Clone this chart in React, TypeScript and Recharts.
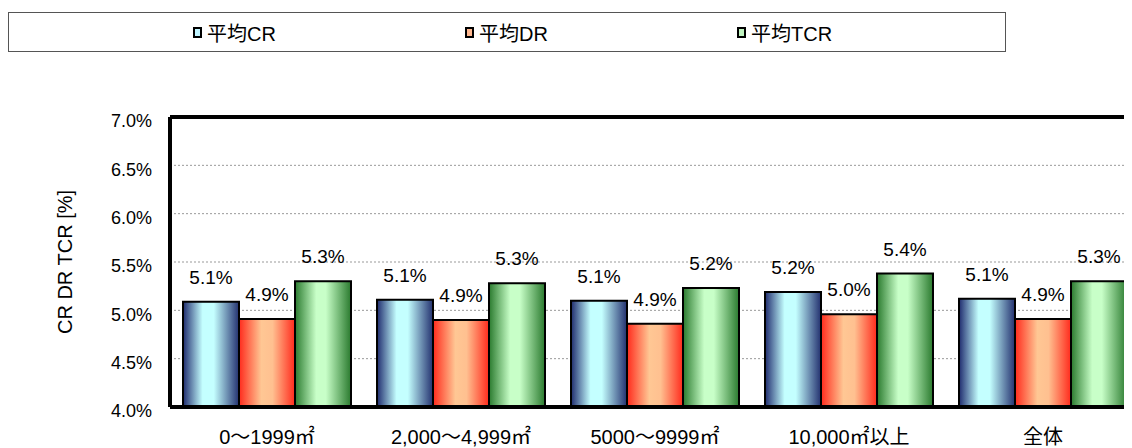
import React from 'react';
import { BarChart, Bar, XAxis, YAxis, CartesianGrid, Legend, LabelList, ReferenceLine } from 'recharts';

const categories = ['0～1999㎡', '2,000～4,999㎡', '5000～9999㎡', '10,000㎡以上', '全体'];
const crValues = [5.09, 5.11, 5.10, 5.19, 5.12];
const drValues = [4.91, 4.90, 4.86, 4.96, 4.91];
const tcrValues = [5.30, 5.28, 5.23, 5.38, 5.30];
const yTicks = [4.0, 4.5, 5.0, 5.5, 6.0, 6.5, 7.0];
const seriesNames = ['平均CR', '平均DR', '平均TCR'];

const data = categories.map((c, i) => ({ name: c, cr: crValues[i], dr: drValues[i], tcr: tcrValues[i] }));

const FONT = "'Liberation Sans', 'Noto Sans CJK JP', sans-serif";
const fmt = (v: number) => `${Number(v).toFixed(1)}%`;

const legendItems = [
  { name: seriesNames[0], color: '#c0f4ff' },
  { name: seriesNames[1], color: '#ffb890' },
  { name: seriesNames[2], color: '#c0f4c0' },
];

const LegendBox = () => (
  <div
    style={{
      width: 998,
      height: 40,
      boxSizing: 'border-box',
      border: '1px solid #555',
      background: '#fff',
      position: 'relative',
      fontFamily: FONT,
      fontSize: 20,
      color: '#000',
    }}
  >
    {legendItems.map((it, i) => (
      <div
        key={it.name}
        style={{
          position: 'absolute',
          left: 184 + i * 272,
          top: 8,
          display: 'flex',
          alignItems: 'center',
          height: 22,
        }}
      >
        <span
          style={{
            display: 'inline-block',
            width: 9,
            height: 11,
            boxSizing: 'border-box',
            border: '2px solid #000',
            background: it.color,
            marginRight: 5,
          }}
        />
        <span>{it.name}</span>
      </div>
    ))}
  </div>
);

const YTick = (props: any) => {
  const { x, y, payload } = props;
  return (
    <text x={x} y={y + 4} dy="0.355em" textAnchor="end" fill="#000" fontSize={18} fontFamily={FONT}>
      {fmt(payload.value)}
    </text>
  );
};

export default function App() {
  return (
    <div style={{ width: 1124, height: 440, overflow: 'hidden', position: 'relative' }}>
      <BarChart
        width={1150}
        height={440}
        data={data}
        margin={{ top: 69, right: 18, bottom: 11, left: 82 }}
        barCategoryGap={13}
        barGap={0}
      >
        <defs>
          <linearGradient id="gCR" x1="0" y1="0" x2="1" y2="0">
            <stop offset="0%" stopColor="#1f2b6e" />
            <stop offset="35%" stopColor="#c4ffff" />
            <stop offset="55%" stopColor="#c4ffff" />
            <stop offset="100%" stopColor="#23306f" />
          </linearGradient>
          <linearGradient id="gDR" x1="0" y1="0" x2="1" y2="0">
            <stop offset="0%" stopColor="#ff2a1c" />
            <stop offset="40%" stopColor="#ffc794" />
            <stop offset="60%" stopColor="#ffc090" />
            <stop offset="100%" stopColor="#ff2a1c" />
          </linearGradient>
          <linearGradient id="gTCR" x1="0" y1="0" x2="1" y2="0">
            <stop offset="0%" stopColor="#2a7a2e" />
            <stop offset="38%" stopColor="#c8ffc8" />
            <stop offset="55%" stopColor="#c8ffc8" />
            <stop offset="100%" stopColor="#2a7a2e" />
          </linearGradient>
        </defs>
        <Legend
          verticalAlign="top"
          align="left"
          content={() => <LegendBox />}
          wrapperStyle={{ top: 4, left: 0, width: 998, height: 40 }}
        />
        <CartesianGrid vertical={false} stroke="#999" strokeDasharray="2 2" />
        <XAxis
          dataKey="name"
          axisLine={{ stroke: '#000', strokeWidth: 4 }}
          tickLine={false}
          tickMargin={17}
          height={30}
          interval={0}
          tick={{ fill: '#000', fontSize: 20, fontFamily: FONT }}
        />
        <YAxis
          domain={[4, 7]}
          ticks={yTicks}
          width={80}
          tickFormatter={fmt}
          axisLine={{ stroke: '#000', strokeWidth: 4 }}
          tickLine={false}
          tickMargin={12}
          allowDataOverflow
          tick={<YTick />}
          label={{
            value: 'CR DR TCR [%]',
            angle: -90,
            position: 'insideLeft',
            dx: -30,
            style: { textAnchor: 'middle', fill: '#000', fontSize: 20, fontFamily: FONT },
          }}
        />
        <ReferenceLine y={7} stroke="#000" strokeWidth={4} />
        <Bar dataKey="cr" name={seriesNames[0]} fill="url(#gCR)" stroke="#000" strokeWidth={2} isAnimationActive={false}>
          <LabelList dataKey="cr" position="top" offset={18} formatter={fmt} style={{ fill: '#000', fontSize: 19, fontFamily: FONT }} />
        </Bar>
        <Bar dataKey="dr" name={seriesNames[1]} fill="url(#gDR)" stroke="#000" strokeWidth={2} isAnimationActive={false}>
          <LabelList dataKey="dr" position="top" offset={18} formatter={fmt} style={{ fill: '#000', fontSize: 19, fontFamily: FONT }} />
        </Bar>
        <Bar dataKey="tcr" name={seriesNames[2]} fill="url(#gTCR)" stroke="#000" strokeWidth={2} isAnimationActive={false}>
          <LabelList dataKey="tcr" position="top" offset={18} formatter={fmt} style={{ fill: '#000', fontSize: 19, fontFamily: FONT }} />
        </Bar>
      </BarChart>
    </div>
  );
}
